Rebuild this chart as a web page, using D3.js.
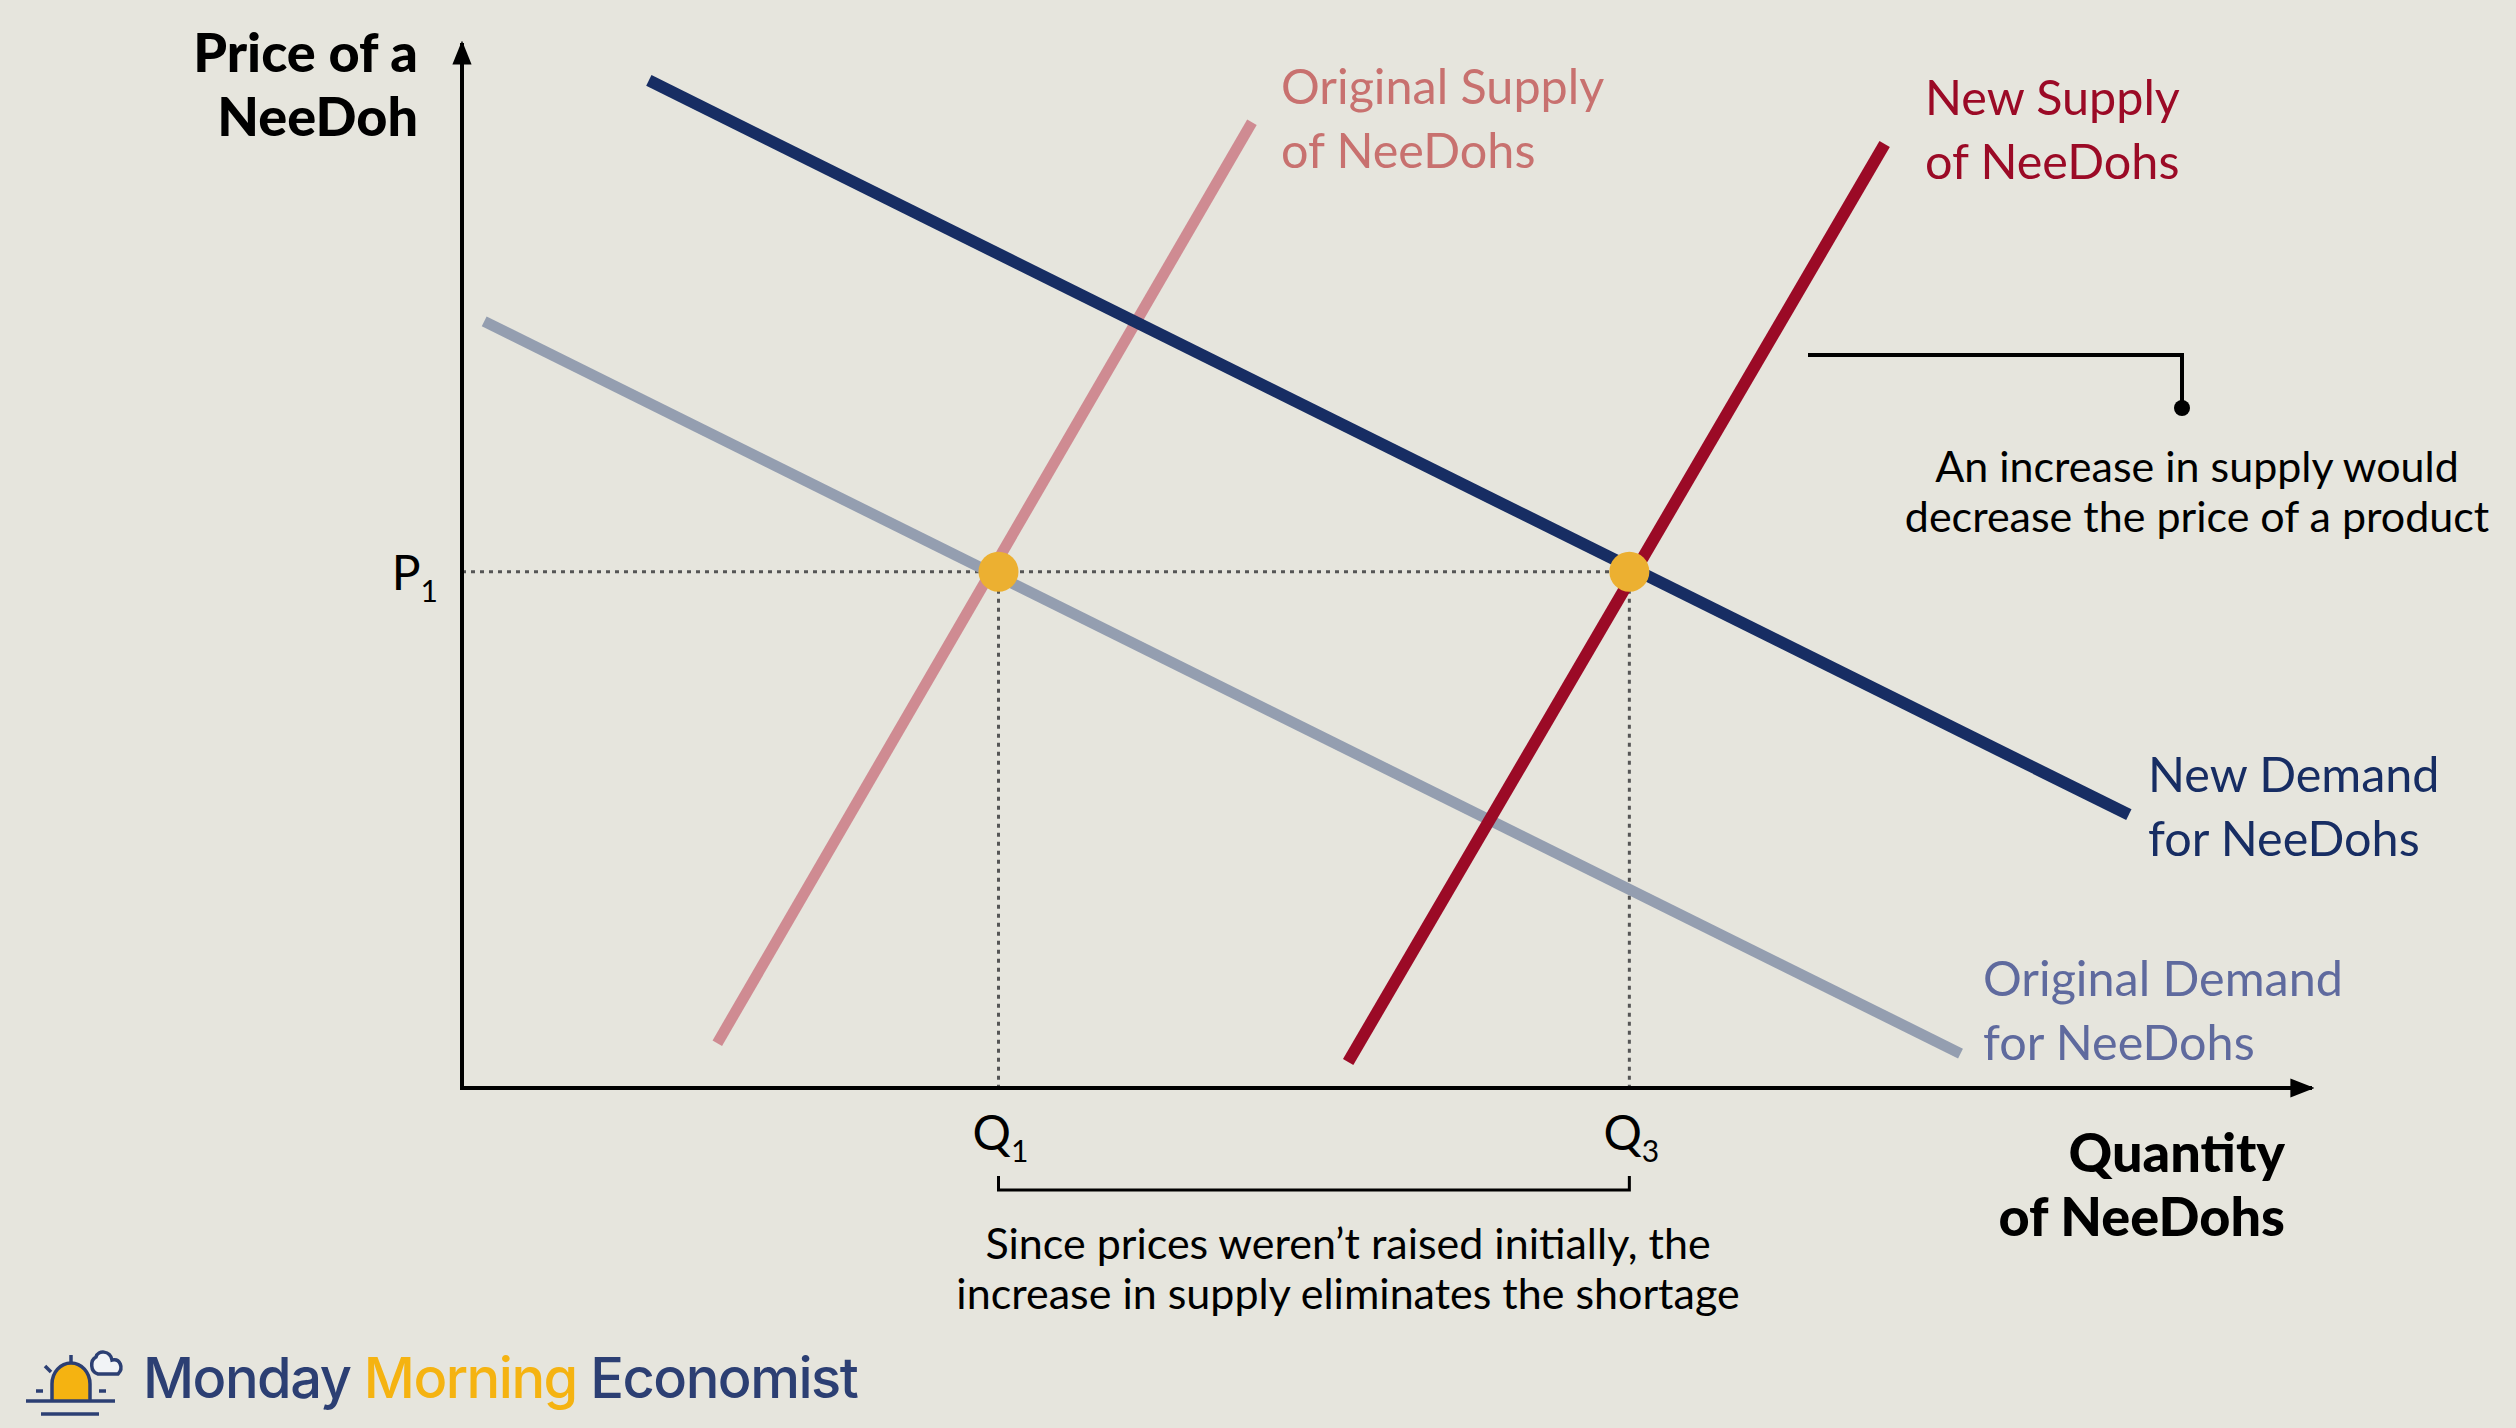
<!DOCTYPE html>
<html>
<head>
<meta charset="utf-8">
<script src="https://cdn.jsdelivr.net/npm/d3@7"></script>
<style>
  html, body { margin: 0; padding: 0; background: #e6e5dd; }
  svg { display: block; font-family: Lato, "Open Sans", sans-serif; }
</style>
</head>
<body>
<div id="chart"></div>
<script>
// curves, as [quantity, price] end points on a 0-100 scale
const curveNames = ["Original Demand", "New Demand", "Original Supply", "New Supply"];
const originalDemand = [[1.2, 73.5], [81.0, 3.3]];
const newDemand = [[10.1, 96.6], [90.1, 26.2]];
const originalSupply = [[13.8, 4.3], [42.7, 92.6]];
const newSupply = [[47.9, 2.5], [76.9, 90.5]];

// equilibrium levels
const priceLevels = [49.5];
const quantityLevels = [29.0, 63.1];
const quantityLabels = ["1", "3"];
const priceLabels = ["1"];

const width = 2516, height = 1428;
const margin = { top: 45, left: 462, right: 204, bottom: 340 };

const svg = d3.select("#chart")
  .append("svg")
  .attr("width", width)
  .attr("height", height)
  .attr("viewBox", [0, 0, width, height]);

svg.append("rect").attr("width", width).attr("height", height).attr("fill", "#e6e5dd");

const xScale = d3.scaleLinear().domain([0, 100]).range([margin.left, width - margin.right]);
const yScale = d3.scaleLinear().domain([0, 100]).range([height - margin.bottom, margin.top]);

const line = d3.line().x((d) => xScale(d[0])).y((d) => yScale(d[1]));

// arrow marker for axes
svg.append("defs").append("marker")
  .attr("id", "arrow")
  .attr("viewBox", "0 0 10 10")
  .attr("refX", 9).attr("refY", 5)
  .attr("markerWidth", 6).attr("markerHeight", 6)
  .attr("markerUnits", "strokeWidth")
  .attr("orient", "auto")
  .append("path").attr("d", "M0,1 L10,5 L0,9 Z").attr("fill", "#000");

// guides (dotted)
const guides = svg.append("g")
  .attr("stroke", "#555")
  .attr("stroke-width", 3)
  .attr("stroke-dasharray", "4,5")
  .attr("fill", "none");

guides.append("line")
  .attr("x1", xScale(0)).attr("x2", xScale(quantityLevels[1]))
  .attr("y1", yScale(priceLevels[0])).attr("y2", yScale(priceLevels[0]));

guides.selectAll("line.v")
  .data(quantityLevels)
  .join("line")
  .attr("class", "v")
  .attr("x1", (d) => xScale(d)).attr("x2", (d) => xScale(d))
  .attr("y1", yScale(priceLevels[0])).attr("y2", yScale(0));

// curves
const curves = [
  { name: curveNames[0], pts: originalDemand, color: "#949eb0", w: 11 },
  { name: curveNames[2], pts: originalSupply, color: "#cf8b92", w: 11 },
  { name: curveNames[1], pts: newDemand, color: "#172d63", w: 12 },
  { name: curveNames[3], pts: newSupply, color: "#9b0a26", w: 12 },
];

svg.append("g")
  .selectAll("path")
  .data(curves)
  .join("path")
  .attr("d", (d) => line(d.pts))
  .attr("fill", "none")
  .attr("stroke", (d) => d.color)
  .attr("stroke-width", (d) => d.w);

// axes
svg.append("line")
  .attr("x1", xScale(0)).attr("y1", yScale(0))
  .attr("x2", xScale(0)).attr("y2", yScale(100) - 2)
  .attr("stroke", "#000").attr("stroke-width", 4)
  .attr("marker-end", "url(#arrow)");

svg.append("line")
  .attr("x1", xScale(0) - 2).attr("y1", yScale(0))
  .attr("x2", xScale(100)).attr("y2", yScale(0))
  .attr("stroke", "#000").attr("stroke-width", 4)
  .attr("marker-end", "url(#arrow)");

// equilibrium dots
svg.append("g")
  .selectAll("circle")
  .data(quantityLevels)
  .join("circle")
  .attr("cx", (d) => xScale(d))
  .attr("cy", yScale(priceLevels[0]))
  .attr("r", 20)
  .attr("fill", "#ecb031");

// axis titles
function multiLine(g, lines, x, y, dy, anchor, size, weight, color) {
  const t = g.append("text")
    .attr("x", x).attr("y", y)
    .attr("text-anchor", anchor)
    .attr("font-size", size)
    .attr("font-weight", weight)
    .attr("fill", color);
  lines.forEach((s, i) => {
    t.append("tspan").attr("x", x).attr("dy", i === 0 ? 0 : dy).text(s);
  });
  return t;
}

multiLine(svg, ["Price of a", "NeeDoh"], 418, 72, 64, "end", 54, 900, "#000");
multiLine(svg, ["Quantity", "of NeeDohs"], 2285, 1172, 64, "end", 54, 900, "#000");

// tick labels with subscripts
const sub = svg.append("g").attr("fill", "#000");
const pLabel = sub.append("text")
  .attr("x", xScale(0) - 24).attr("y", yScale(priceLevels[0]) + 18)
  .attr("text-anchor", "end").attr("font-size", 48);
pLabel.append("tspan").text("P");
pLabel.append("tspan").attr("font-size", 30).attr("dy", 12).text(priceLabels[0]);

sub.selectAll("text.q")
  .data(quantityLevels)
  .join("text")
  .attr("class", "q")
  .attr("x", (d) => xScale(d) + 2)
  .attr("y", yScale(0) + 62)
  .attr("text-anchor", "middle")
  .attr("font-size", 48)
  .each(function (d, i) {
    const t = d3.select(this);
    t.append("tspan").text("Q");
    t.append("tspan").attr("font-size", 30).attr("dy", 12).text(quantityLabels[i]);
  });

// curve labels
const labels = [
  { lines: ["Original Supply", "of NeeDohs"], x: 1281, y: 104, color: "#c8716f" },
  { lines: ["New Supply", "of NeeDohs"], x: 1925, y: 115, color: "#9b0a26" },
  { lines: ["New Demand", "for NeeDohs"], x: 2148, y: 792, color: "#172d63" },
  { lines: ["Original Demand", "for NeeDohs"], x: 1983, y: 996, color: "#5f6a9e" },
];
labels.forEach((l) => multiLine(svg, l.lines, l.x, l.y, 64, "start", 48.5, 400, l.color));

// callout: increase in supply
svg.append("path")
  .attr("d", `M1808,355 H2182 V405`)
  .attr("fill", "none").attr("stroke", "#000").attr("stroke-width", 4);
svg.append("circle").attr("cx", 2182).attr("cy", 408).attr("r", 8).attr("fill", "#000");
multiLine(svg, ["An increase in supply would", "decrease the price of a product"],
  2197, 482, 50, "middle", 43, 400, "#000");

// bracket between Q1 and Q3
const by = 1190;
svg.append("path")
  .attr("d", `M${xScale(quantityLevels[0])},${by - 14} V${by} H${xScale(quantityLevels[1])} V${by - 14}`)
  .attr("fill", "none").attr("stroke", "#000").attr("stroke-width", 3);
multiLine(svg, ["Since prices weren\u2019t raised initially, the", "increase in supply eliminates the shortage"],
  1348, 1259, 50, "middle", 43, 400, "#000");

// logo
const logo = svg.append("g").attr("stroke", "#2c3f73").attr("stroke-width", 3.5).attr("fill", "none");
logo.append("path")
  .attr("d", "M52,1400 V1384 A19,21 0 0 1 90,1384 V1400")
  .attr("fill", "#f5b311");
logo.append("line").attr("x1", 26).attr("x2", 115).attr("y1", 1401).attr("y2", 1401);
logo.append("line").attr("x1", 41).attr("x2", 99).attr("y1", 1414).attr("y2", 1414);
logo.append("line").attr("x1", 71).attr("x2", 71).attr("y1", 1355).attr("y2", 1362);
logo.append("line").attr("x1", 45).attr("x2", 51).attr("y1", 1366).attr("y2", 1372);
logo.append("line").attr("x1", 36).attr("x2", 43).attr("y1", 1391).attr("y2", 1391);
logo.append("line").attr("x1", 99).attr("x2", 106).attr("y1", 1391).attr("y2", 1391);
logo.append("path")
  .attr("d", "M98,1374 C90,1372 90,1360 96,1357 C98,1350 110,1350 112,1360 C120,1358 124,1368 118,1374 Z")
  .attr("fill", "#f1f3f6");

const logoText = svg.append("text")
  .attr("x", 143).attr("y", 1398)
  .attr("font-family", "Inter, Roboto, sans-serif")
  .attr("font-size", 56)
  .attr("font-weight", 500)
  .attr("letter-spacing", -1.5)
  .attr("fill", "#2c3f73");
logoText.append("tspan").text("Monday ");
logoText.append("tspan").attr("fill", "#f5b311").text("Morning");
logoText.append("tspan").text(" Economist");
</script>
</body>
</html>
